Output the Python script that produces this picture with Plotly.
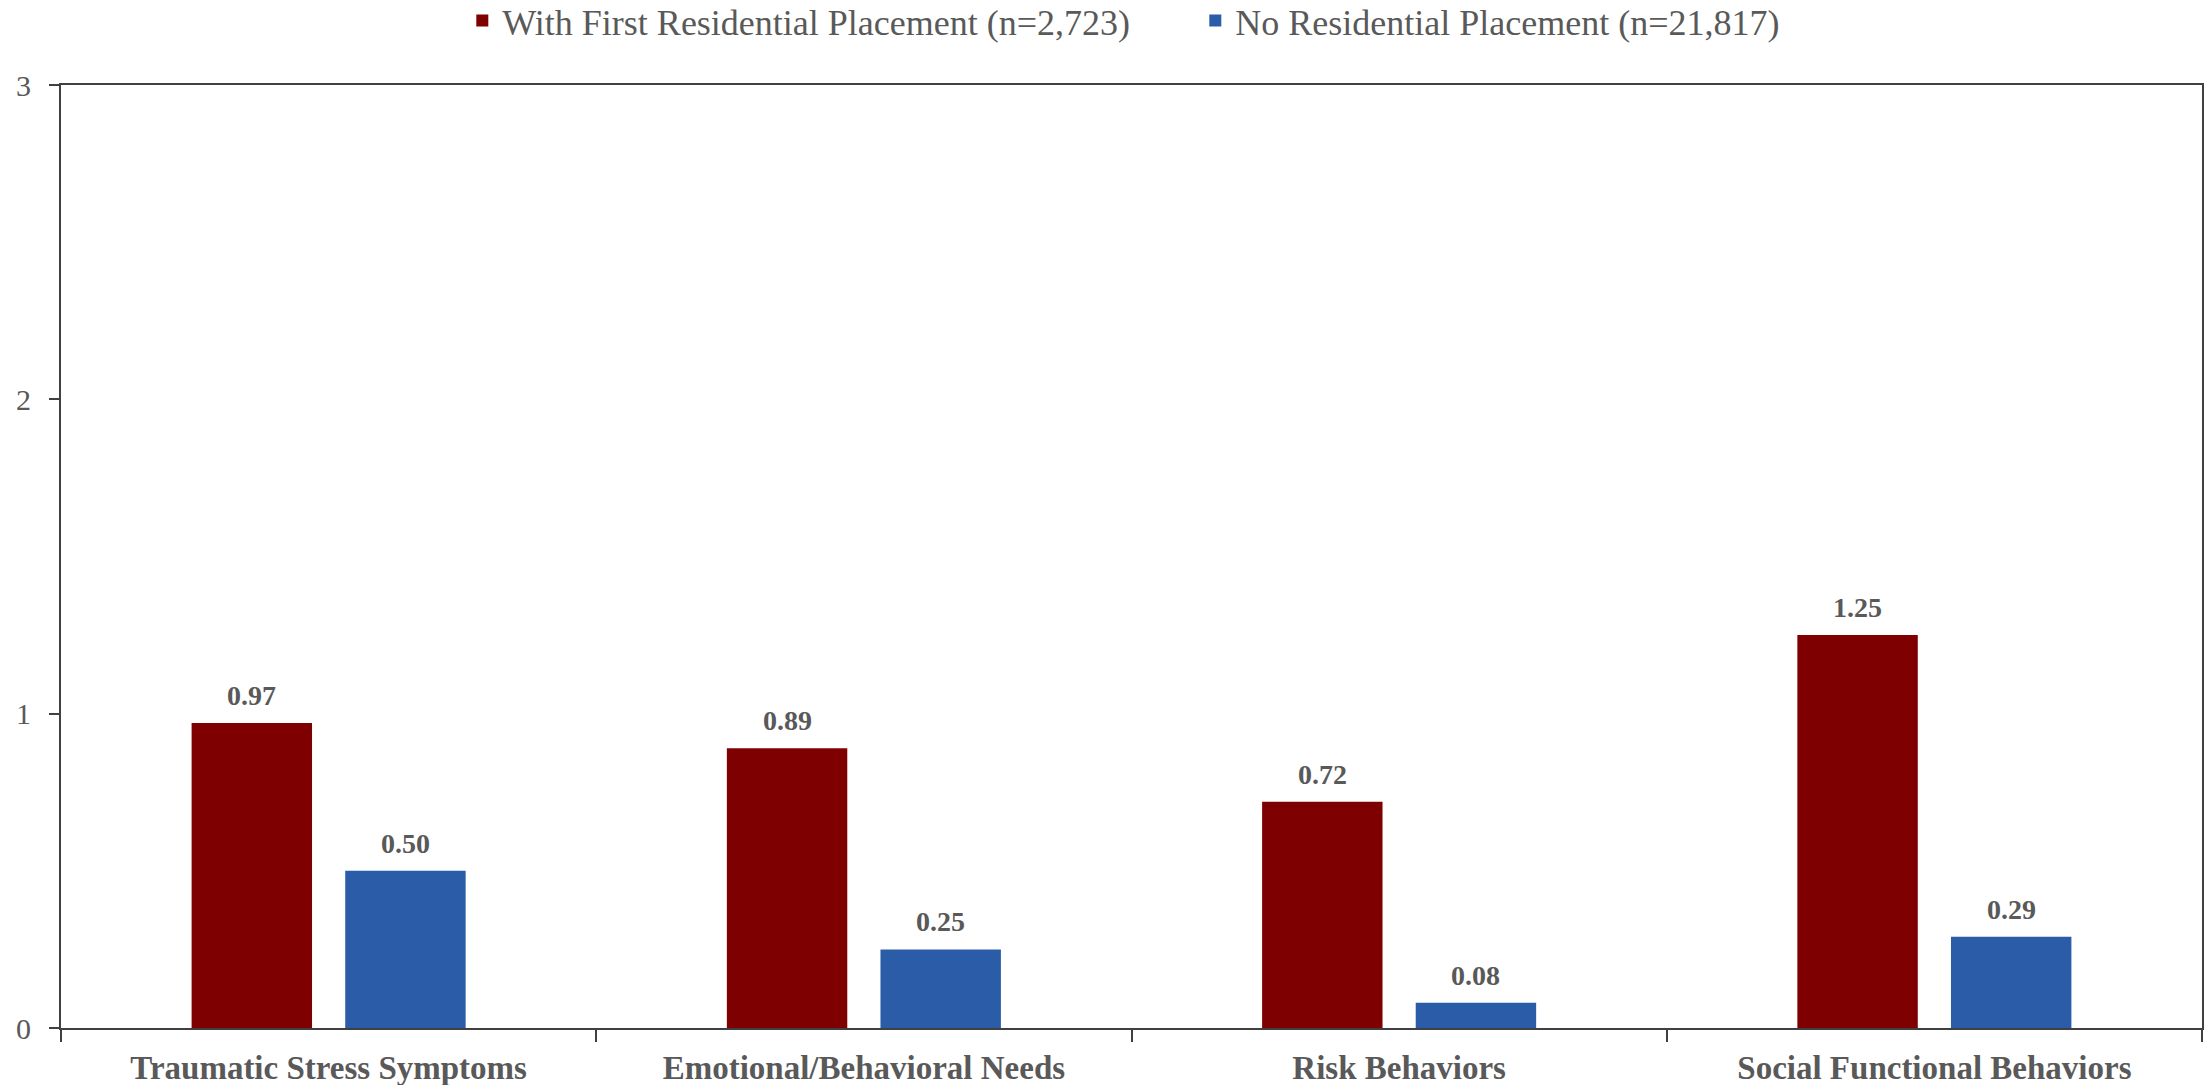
import plotly.graph_objects as go

categories = ["Traumatic Stress Symptoms", "Emotional/Behavioral Needs",
              "Risk Behaviors", "Social Functional Behaviors"]
with_placement = [0.97, 0.89, 0.72, 1.25]
no_placement = [0.50, 0.25, 0.08, 0.29]
series_names = ["With First Residential Placement (n=2,723)",
                "No Residential Placement (n=21,817)"]
y_ticks = [0, 1, 2, 3]

RED = "#7F0000"
BLUE = "#2B5CA8"
TEXT = "#595959"
AXIS = "#404040"
FONT = "Liberation Serif"

BARGAP = 0.426
GROUPGAP = 0.216

fig = go.Figure()
fig.add_trace(go.Bar(x=categories, y=with_placement, name=series_names[0],
                     marker=dict(color=RED, line=dict(width=0))))
fig.add_trace(go.Bar(x=categories, y=no_placement, name=series_names[1],
                     marker=dict(color=BLUE, line=dict(width=0))))

# value labels above each bar, centred on the bar within its group
slot = (1 - BARGAP) / 2
for k, series in enumerate([with_placement, no_placement]):
    off = (k - 0.5) * slot
    for i, v in enumerate(series):
        fig.add_annotation(x=i + off, y=v, text=f"<b>{v:.2f}</b>",
                           showarrow=False, yanchor="bottom", yshift=10,
                           font=dict(family=FONT, size=28, color=TEXT))

fig.update_layout(
    width=2212, height=1085,
    margin=dict(l=61, r=10, t=85, b=57, autoexpand=False),
    plot_bgcolor="white", paper_bgcolor="white",
    barmode="group", bargap=BARGAP, bargroupgap=GROUPGAP,
    font=dict(family=FONT, size=28, color=TEXT),
    showlegend=True,
    legend=dict(orientation="h", xref="container", yref="container",
                x=0.209, xanchor="left", y=0.981, yanchor="middle",
                font=dict(family=FONT, size=36, color=TEXT),
                itemwidth=30, entrywidth=688, traceorder="normal"),
)
fig.update_xaxes(
    type="category", tickson="boundaries", ticks="outside", ticklen=12,
    tickcolor=AXIS, tickwidth=2, showline=True, linecolor=AXIS, linewidth=2,
    mirror=True, showgrid=False, automargin=False,
    tickfont=dict(family=FONT, size=33, color=TEXT), ticklabelstandoff=9,
    tickvals=categories, ticktext=[f"<b>{c}</b>" for c in categories],
)
fig.update_yaxes(
    range=[0, 3], tickvals=y_ticks, ticks="outside", ticklen=10,
    tickcolor=AXIS, tickwidth=2, showline=True, linecolor=AXIS, linewidth=2,
    mirror=True, showgrid=False, zeroline=False, automargin=False,
    tickfont=dict(family=FONT, size=30, color=TEXT), ticklabelstandoff=12,
)

fig.write_html("out.html")
